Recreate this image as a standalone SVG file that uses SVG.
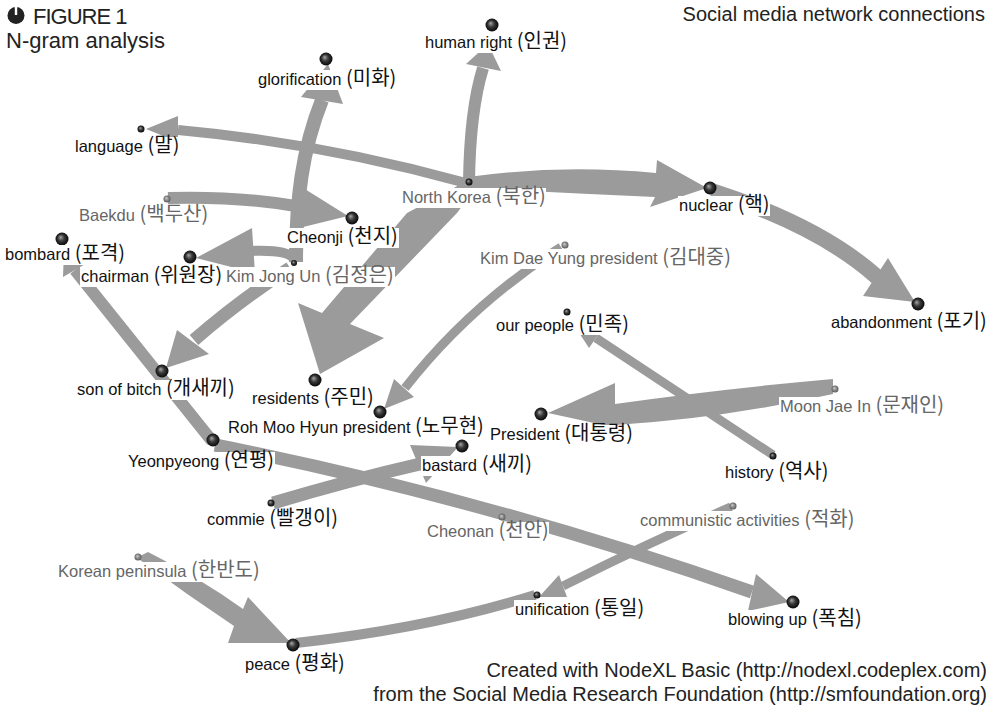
<svg xmlns="http://www.w3.org/2000/svg" width="993" height="710" viewBox="0 0 993 710">
<defs>
<radialGradient id="bk" cx="0.5" cy="0.5" r="0.55" fx="0.38" fy="0.35"><stop offset="0" stop-color="#a8a8a8"/><stop offset="0.45" stop-color="#3a3a3a"/><stop offset="1" stop-color="#000"/></radialGradient>
<radialGradient id="gy" cx="0.5" cy="0.5" r="0.55" fx="0.38" fy="0.35"><stop offset="0" stop-color="#d0d0d0"/><stop offset="0.5" stop-color="#8a8a8a"/><stop offset="1" stop-color="#555"/></radialGradient>
<style>
.e{fill:none;stroke:#9b9b9b;stroke-linecap:butt}
.h{fill:#9b9b9b;stroke:none}
.bg{fill:#fff}
.lb{font-family:"Liberation Sans","Noto Sans CJK KR",Arial,sans-serif;font-size:16.5px;fill:#111}
.gr{fill:#666}
.k{font-family:"Noto Sans CJK KR","Liberation Sans",sans-serif;font-size:20px}
.db{fill:url(#bk)}
.dg{fill:url(#gy)}
.hd{font-family:"Liberation Sans",Arial,sans-serif;fill:#222}
</style>
</defs>
<rect width="993" height="710" fill="#fff"/>

<g id="title">
<circle cx="16" cy="15.5" r="8.5" fill="#222"/>
<rect x="14.8" y="6" width="2.4" height="9" fill="#fff"/>
<text class="hd" x="33" y="24" font-size="22" letter-spacing="-1">FIGURE 1</text>
<text class="hd" x="6" y="48" font-size="22">N-gram analysis</text>
<text class="hd" x="985" y="21" font-size="20" text-anchor="end">Social media network connections</text>
</g>

<g id="edges">
<path class="e" d="M 466 183 Q 321 143 178 130" stroke-width="10"/>
<polygon class="h" points="146,129 178,116 178,142"/>
<path class="e" d="M 469 182 Q 470 110 483 68" stroke-width="12"/>
<polygon class="h" points="466,64 501,71 488,44"/>
<path class="h" d="M 468 177 Q 560 164 656 173 L 657 160 L 707 188 L 650 207 L 655 197 Q 560 193 468 188 Z"/>
<path class="e" d="M 712 191 Q 820 226 877 277" stroke-width="16"/>
<polygon class="h" points="888,258 863,296 915,302"/>
<polygon class="h" points="461,184 477,186 457,213 350,324 384,338 320,374 298,303 322,313 407,213"/>
<path class="e" d="M 296 262 C 296 200 302 150 322 100" stroke-width="14"/>
<polygon class="h" points="301,97 343,104 328,64"/>
<path class="e" d="M 168 198 Q 240 196 302 207" stroke-width="12"/>
<polygon class="h" points="300,186 295,229 348,216"/>
<path class="e" d="M 295 262 Q 294 249 250 251" stroke-width="10"/>
<polygon class="h" points="252,228 255,273 196,258"/>
<path class="e" d="M 290 268 Q 240 300 194 340" stroke-width="13"/>
<polygon class="h" points="177,330 209,354 166,368"/>
<path class="e" d="M 212 441 L 75 270" stroke-width="12"/>
<polygon class="h" points="87,263 63,277 64,250"/>
<path class="e" d="M 215 445 Q 483 498 752 592" stroke-width="13"/>
<polygon class="h" points="756,574 748,611 789,602"/>
<path class="e" d="M 273 503 Q 350 480 420 464" stroke-width="13"/>
<polygon class="h" points="410,445 426,483 458,447"/>
<path class="e" d="M 561 247 Q 470 305 405 388" stroke-width="9"/>
<polygon class="h" points="394,379 414,397 384,409"/>
<path class="h" d="M 833 379 Q 720 389 615 404 L 615 383 L 548 413 L 617 428 L 615 425 Q 720 419 833 394 Z"/>
<path class="e" d="M 773 455 L 596 338" stroke-width="9"/>
<polygon class="h" points="603,328 589,348 572,322"/>
<path class="h" d="M 140 556 L 148 552 Q 200 578 243 609 L 248 597 L 291 643 L 228 643 L 234 626 Q 186 594 140 560 Z"/>
<path class="e" d="M 296 643 Q 430 628 535 595" stroke-width="10"/>
<path class="e" d="M 731 507 Q 650 542 563 586" stroke-width="9"/>
<polygon class="h" points="559,575 567,597 539,597"/>
</g>

<g id="n-language"><circle class="db" cx="141" cy="129" r="3.5"/><rect class="bg" x="74" y="137" width="106" height="20"/><text class="lb" x="75" y="152">language <tspan class="k">(말)</tspan></text></g>
<g id="n-glorification"><circle class="db" cx="326" cy="59" r="6.5"/><rect class="bg" x="257" y="70" width="141" height="20"/><text class="lb" x="258" y="85">glorification <tspan class="k">(미화)</tspan></text></g>
<g id="n-humanright"><circle class="db" cx="492" cy="25" r="6.5"/><rect class="bg" x="424" y="33" width="144" height="20"/><text class="lb" x="425" y="48">human right <tspan class="k">(인권)</tspan></text></g>
<g id="n-northkorea"><circle class="db" cx="469" cy="182" r="3.5"/><rect class="bg" x="401" y="188" width="145" height="20"/><text class="lb gr" x="402" y="203">North Korea <tspan class="k">(북한)</tspan></text></g>
<g id="n-nuclear"><circle class="db" cx="710" cy="188" r="6.5"/><rect class="bg" x="678" y="196" width="92" height="20"/><text class="lb" x="679" y="211">nuclear <tspan class="k">(핵)</tspan></text></g>
<g id="n-baekdu"><circle class="dg" cx="167" cy="199" r="3.5"/><rect class="bg" x="78" y="206" width="134" height="20"/><text class="lb gr" x="79" y="221">Baekdu <tspan class="k">(백두산)</tspan></text></g>
<g id="n-cheonji"><circle class="db" cx="352" cy="218" r="6.5"/><rect class="bg" x="286" y="228" width="113" height="20"/><text class="lb" x="287" y="243">Cheonji <tspan class="k">(천지)</tspan></text></g>
<g id="n-bombard"><circle class="db" cx="62" cy="239" r="6.5"/><rect class="bg" x="4" y="245" width="123" height="20"/><text class="lb" x="5" y="260">bombard <tspan class="k">(포격)</tspan></text></g>
<g id="n-chairman"><circle class="db" cx="190" cy="257" r="6.5"/><rect class="bg" x="80" y="267" width="146" height="20"/><text class="lb" x="81" y="282">chairman <tspan class="k">(위원장)</tspan></text></g>
<g id="n-kimjongun"><circle class="db" cx="294" cy="263" r="3"/><rect class="bg" x="226" y="267" width="169" height="20"/><text class="lb gr" x="226" y="282">Kim Jong Un <tspan class="k">(김정은)</tspan></text></g>
<g id="n-kimdaeyung"><circle class="dg" cx="565" cy="245" r="3.5"/><rect class="bg" x="479" y="249" width="254" height="20"/><text class="lb gr" x="480" y="264">Kim Dae Yung president <tspan class="k">(김대중)</tspan></text></g>
<g id="n-abandonment"><circle class="db" cx="918" cy="304" r="6.5"/><rect class="bg" x="830" y="313" width="157" height="20"/><text class="lb" x="831" y="328">abandonment <tspan class="k">(포기)</tspan></text></g>
<g id="n-ourpeople"><circle class="db" cx="567" cy="312" r="3.5"/><rect class="bg" x="495" y="317" width="135" height="18"/><text class="lb" x="496" y="331">our people <tspan class="k">(민족)</tspan></text></g>
<g id="n-sonofbitch"><circle class="db" cx="162" cy="371" r="6.5"/><rect class="bg" x="76" y="380" width="163" height="20"/><text class="lb" x="77" y="395">son of bitch <tspan class="k">(개새끼)</tspan></text></g>
<g id="n-residents"><circle class="db" cx="315" cy="380" r="6.5"/><rect class="bg" x="251" y="389" width="124" height="20"/><text class="lb" x="252" y="404">residents <tspan class="k">(주민)</tspan></text></g>
<g id="n-moonjaein"><circle class="dg" cx="835" cy="389" r="3.5"/><rect class="bg" x="779" y="397" width="168" height="20"/><text class="lb gr" x="780" y="412">Moon Jae In <tspan class="k">(문재인)</tspan></text></g>
<g id="n-rohmoohyun"><circle class="db" cx="380" cy="412" r="6.5"/><rect class="bg" x="227" y="419" width="262" height="19"/><text class="lb" x="228" y="433">Roh Moo Hyun president <tspan class="k">(노무현)</tspan></text></g>
<g id="n-president"><circle class="db" cx="541" cy="414" r="6.5"/><rect class="bg" x="489" y="425" width="146" height="20"/><text class="lb" x="490" y="440">President <tspan class="k">(대통령)</tspan></text></g>
<g id="n-yeonpyeong"><circle class="db" cx="213" cy="440" r="6.5"/><rect class="bg" x="127" y="452" width="148" height="20"/><text class="lb" x="128" y="467">Yeonpyeong <tspan class="k">(연평)</tspan></text></g>
<g id="n-bastard"><circle class="db" cx="462" cy="446" r="6.5"/><rect class="bg" x="421" y="456" width="111" height="20"/><text class="lb" x="422" y="471">bastard <tspan class="k">(새끼)</tspan></text></g>
<g id="n-history"><circle class="db" cx="773" cy="456" r="3.5"/><rect class="bg" x="724" y="463" width="105" height="20"/><text class="lb" x="725" y="478">history <tspan class="k">(역사)</tspan></text></g>
<g id="n-commie"><circle class="db" cx="271" cy="503" r="3.5"/><rect class="bg" x="206" y="510" width="133" height="20"/><text class="lb" x="207" y="525">commie <tspan class="k">(빨갱이)</tspan></text></g>
<g id="n-cheonan"><circle class="dg" cx="502" cy="517" r="3.5"/><rect class="bg" x="426" y="522" width="123" height="20"/><text class="lb gr" x="427" y="537">Cheonan <tspan class="k">(천안)</tspan></text></g>
<g id="n-communistic"><circle class="dg" cx="733" cy="506" r="3.5"/><rect class="bg" x="639" y="511" width="216" height="20"/><text class="lb gr" x="640" y="526">communistic activities <tspan class="k">(적화)</tspan></text></g>
<g id="n-koreanpeninsula"><circle class="dg" cx="138" cy="557" r="3.5"/><rect class="bg" x="57" y="562" width="207" height="20"/><text class="lb gr" x="58" y="577">Korean peninsula <tspan class="k">(한반도)</tspan></text></g>
<g id="n-unification"><circle class="db" cx="537" cy="595" r="3.5"/><rect class="bg" x="514" y="600" width="103" height="20"/><text class="lb" x="515" y="615">unification <tspan class="k">(통일)</tspan></text></g>
<g id="n-blowingup"><circle class="db" cx="793" cy="602" r="6.5"/><rect class="bg" x="727" y="610" width="137" height="20"/><text class="lb" x="728" y="625">blowing up <tspan class="k">(폭침)</tspan></text></g>
<g id="n-peace"><circle class="db" cx="293" cy="645" r="6.5"/><rect class="bg" x="244" y="655" width="101" height="20"/><text class="lb" x="245" y="670">peace <tspan class="k">(평화)</tspan></text></g>

<g id="credits">
<text class="hd" x="987" y="677" font-size="20" text-anchor="end">Created with NodeXL Basic (http://nodexl.codeplex.com)</text>
<text class="hd" x="987" y="701" font-size="20" text-anchor="end">from the Social Media Research Foundation (http://smfoundation.org)</text>
</g>
</svg>
